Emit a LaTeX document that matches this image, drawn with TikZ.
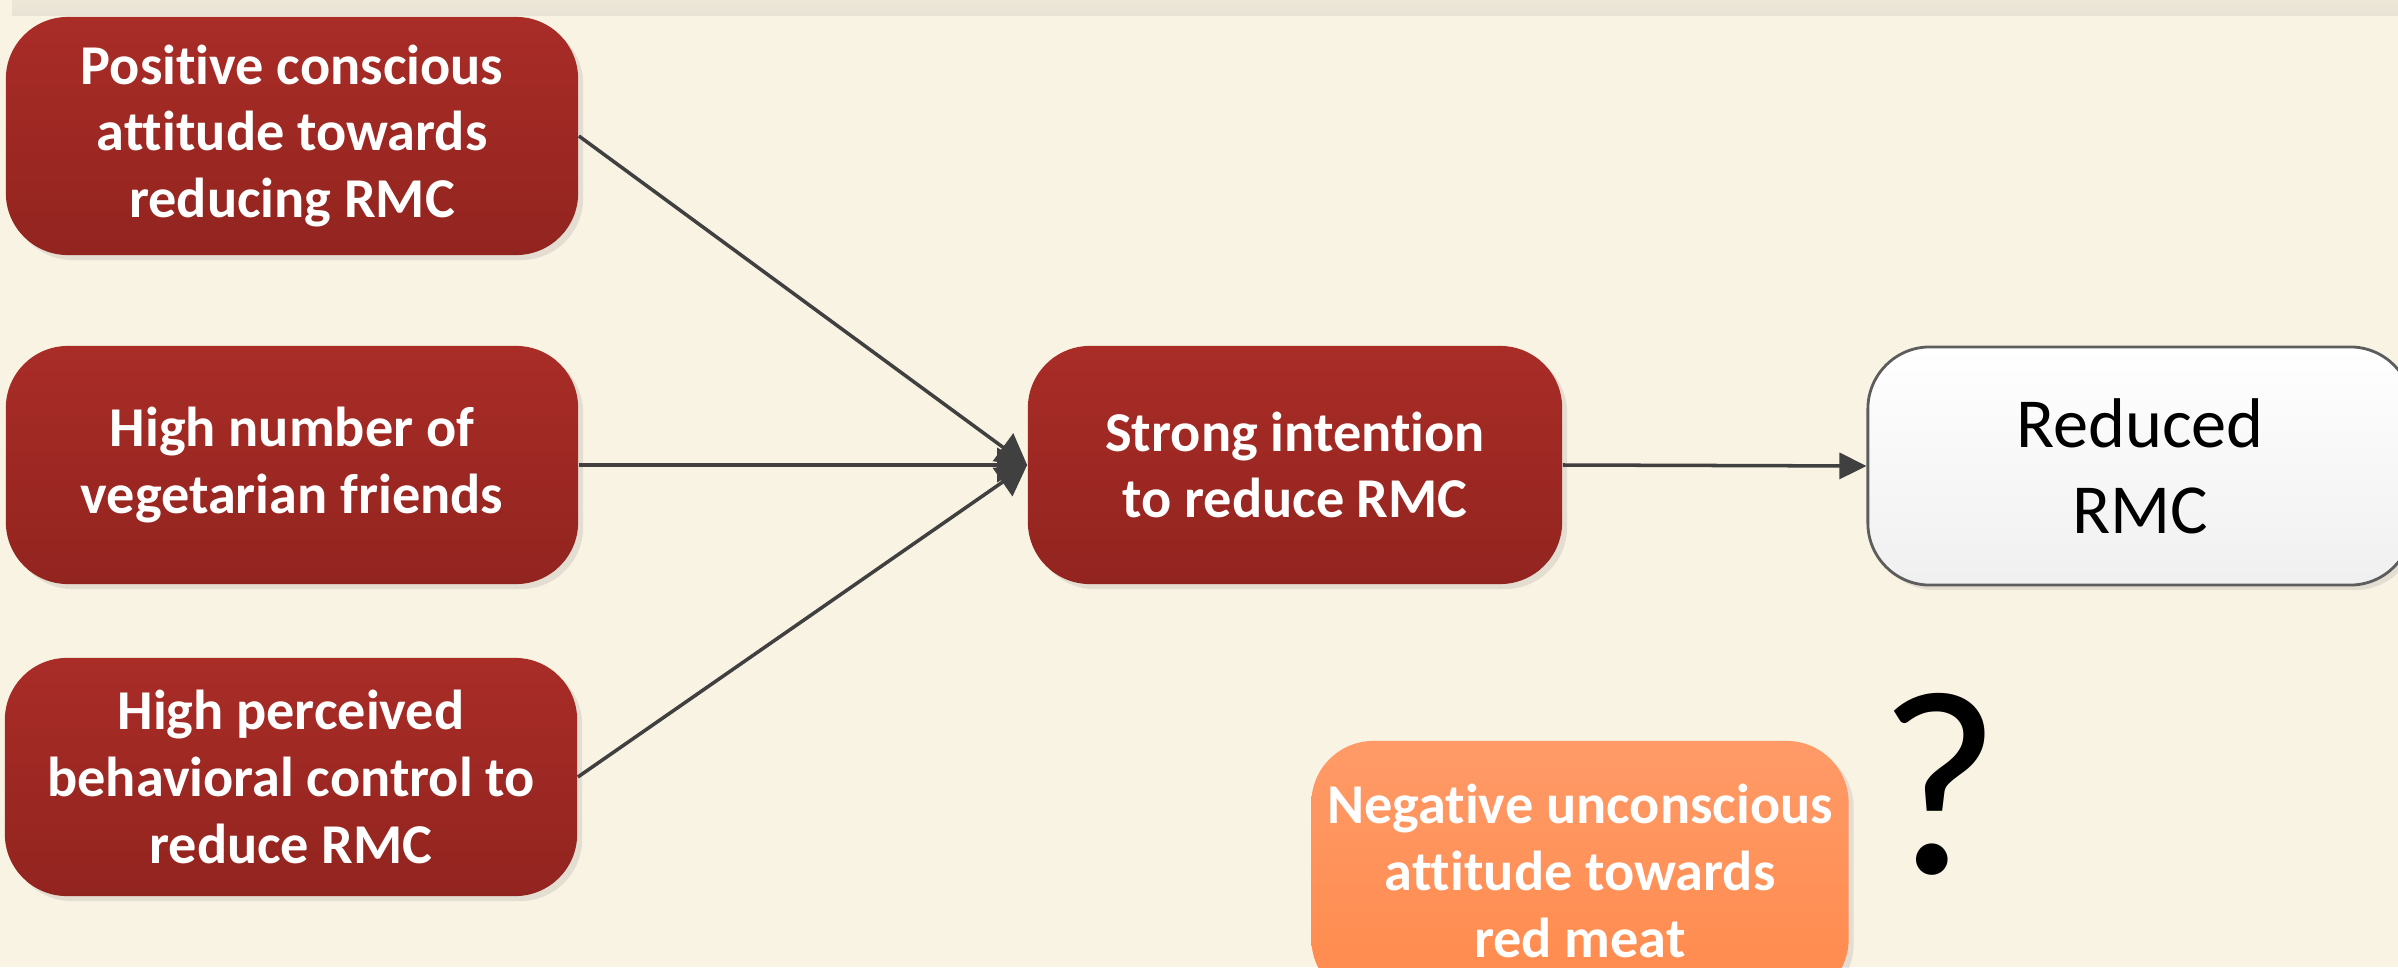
\documentclass[tikz,border=0pt]{standalone}
\usepackage{fontspec}
\setmainfont{Carlito}[Ligatures=NoCommon]
\usetikzlibrary{arrows.meta,shadows}
\definecolor{cream}{HTML}{F9F3E3}
\definecolor{band}{HTML}{E8E2D4}
\definecolor{redtop}{HTML}{A92C27}
\definecolor{redbot}{HTML}{92241F}
\definecolor{orgtop}{HTML}{FF9A68}
\definecolor{orgbot}{HTML}{FF8A4C}
\definecolor{linegray}{HTML}{404040}

\begin{document}
\begin{tikzpicture}[x=0.01cm,y=-0.01cm,
    box/.style={rounded corners=0.62cm,inner sep=0pt,align=center,
      minimum height=2.38cm,drop shadow={shadow xshift=0.05cm,
        shadow yshift=-0.05cm,opacity=.18}},
    factor/.style={box,top color=redtop,bottom color=redbot,text=white,
      minimum width=5.72cm,font=\bfseries\fontsize{16}{19}\selectfont},
    link/.style={draw=linegray,line width=1pt,
      -{Triangle[length=0.3cm,width=0.34cm]}}]
      \clip (0,0) rectangle (2398,967);
      \fill[cream] (0,0) rectangle (2398,967);
      \fill[top color=band!70!cream,bottom color=band] (12,0) rectangle (2398,16);
      \node[factor] (att) at (292,136) {Positive conscious\\attitude towards\\reducing RMC};
      \node[factor] (friends) at (292,465) {High number of\\vegetarian friends};
      \node[factor] (pbc) at (291,777) {High perceived\\behavioral control to\\reduce RMC};
      \node[factor,minimum width=5.34cm] (intent) at (1295,465) {Strong intention\\to reduce RMC};
      \node[box,draw=linegray!85,line width=.8pt,top color=white,bottom color=black!6,
        minimum width=5.44cm,font=\fontsize{20}{24.5}\selectfont] (rmc) at (2140,466) {Reduced\\RMC};
      \node[box,top color=orgtop,bottom color=orgbot,text=white,minimum width=5.37cm,
        minimum height=2.6cm,font=\bfseries\fontsize{16}{19}\selectfont] (neg) at (1580,871)
        {Negative unconscious\\attitude towards\\red meat};
      \node[anchor=base,inner sep=0pt,font=\fontsize{75}{75}\selectfont] (qm) at (1940,873) {?};
      \draw[link] (att.east) -- (intent.west);
      \draw[link] (friends.east) -- (intent.west);
      \draw[link] (pbc.east) -- (intent.west);
      \draw[link,-{Triangle[length=0.27cm,width=0.26cm]}] (intent.east) -- (rmc.west);
    \end{tikzpicture}
\end{document}
